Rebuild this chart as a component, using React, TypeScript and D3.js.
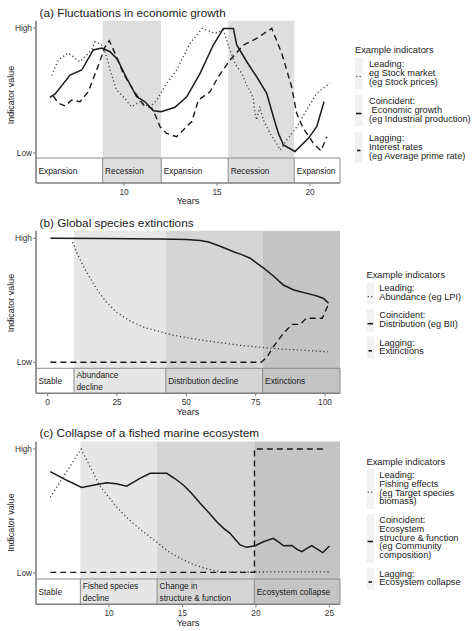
import React from "react";
import * as d3 from "d3";

type Pt = [number, number];

// ---------- Panel (a) data ----------
const aTitle = "(a) Fluctuations in economic growth";
const aLeading: Pt[] = [
  [6.11, 0.62], [6.47, 0.744], [7.0, 0.8], [7.63, 0.73], [8.26, 0.824], [8.44, 0.89], [8.8, 0.864],
  [9.07, 0.77], [9.25, 0.664], [9.6, 0.504], [9.96, 0.45], [10.4, 0.37], [10.86, 0.41], [11.4, 0.366],
  [11.76, 0.424], [12.3, 0.557], [12.83, 0.664], [13.55, 0.877], [14.2, 0.997], [14.9, 0.957],
  [15.34, 0.984], [15.6, 0.864], [15.97, 0.717], [16.33, 0.637], [16.63, 0.53], [16.8, 0.49],
  [16.95, 0.437], [17.04, 0.317], [17.13, 0.264], [17.3, 0.37], [17.49, 0.264], [17.85, 0.157],
  [18.2, 0.077], [18.4, 0.024], [18.75, 0.104], [19.3, 0.21], [19.82, 0.344], [20.36, 0.478], [21.07, 0.558],
];
const aCoincident: Pt[] = [
  [6.02, 0.446], [6.29, 0.47], [7.1, 0.624], [7.73, 0.664], [8.35, 0.824], [8.8, 0.84], [9.25, 0.81],
  [9.64, 0.75], [10.14, 0.6], [10.68, 0.45], [11.13, 0.41], [11.58, 0.338], [12.0, 0.33], [12.74, 0.366],
  [13.37, 0.45], [14.09, 0.637], [14.8, 0.864], [15.34, 0.997], [15.88, 0.997], [16.06, 0.864],
  [16.6, 0.73], [17.13, 0.61], [17.67, 0.477], [18.03, 0.29], [18.3, 0.157], [18.57, 0.064],
  [19.19, 0.012], [19.91, 0.117], [20.36, 0.21], [20.75, 0.41],
];
const aLagging: Pt[] = [
  [6.2, 0.456], [6.47, 0.398], [6.83, 0.376], [7.19, 0.424], [7.63, 0.41], [8.08, 0.49], [8.53, 0.664],
  [8.98, 0.85], [9.21, 0.898], [9.52, 0.797], [9.96, 0.637], [10.5, 0.504], [11.04, 0.384], [11.5, 0.357],
  [11.72, 0.29], [11.94, 0.21], [12.29, 0.157], [12.83, 0.13], [13.19, 0.184], [13.37, 0.216],
  [13.64, 0.25], [14.0, 0.424], [14.62, 0.49], [15.07, 0.61], [15.7, 0.744], [16.42, 0.864],
  [17.13, 0.917], [17.94, 0.997], [18.48, 0.797], [19.01, 0.53], [19.28, 0.317], [19.64, 0.197],
  [20.18, 0.077], [20.59, 0.018], [20.9, 0.13],
];
const aPhaseLabels = ["Expansion", "Recession", "Expansion", "Recession", "Expansion"];
const aPhaseBreaks = [8.85, 12.0, 15.6, 19.15];
const aXTicks = [10, 15, 20];
const aLegendGroups = [
  ["Leading:", "eg Stock market", "(eg Stock prices)"],
  ["Coincident:", " Economic growth", "(eg Industrial production)"],
  ["Lagging:", "Interest rates", "(eg Average prime rate)"],
];

// ---------- Panel (b) data ----------
const bTitle = "(b) Global species extinctions";
const bLeading: Pt[] = [
  [9, 0.97], [11, 0.86], [13, 0.77], [15, 0.69], [18, 0.58], [21, 0.49], [25, 0.4], [30, 0.33],
  [35, 0.28], [40, 0.25], [45, 0.22], [50, 0.2], [55, 0.18], [60, 0.165], [65, 0.15], [70, 0.135],
  [75, 0.125], [80, 0.115], [85, 0.105], [90, 0.1], [95, 0.093], [101, 0.085],
];
const bCoincident: Pt[] = [
  [1, 1.0], [20, 0.998], [40, 0.994], [50, 0.99], [55, 0.982], [58, 0.97], [61, 0.946], [64, 0.92],
  [67, 0.892], [70, 0.868], [73, 0.839], [76, 0.79], [78, 0.758], [81.4, 0.696], [85, 0.623],
  [88.7, 0.583], [93.5, 0.556], [97.1, 0.535], [99.5, 0.515], [101.3, 0.476],
];
const bLagging: Pt[] = [
  [1, 0], [77, 0], [79, 0.04], [81.4, 0.126], [85, 0.234], [88.1, 0.306], [91, 0.306], [93.3, 0.355],
  [99, 0.355], [101.3, 0.47],
];
const bPhaseLabels = ["Stable", "Abundance\ndecline", "Distribution decline", "Extinctions"];
const bPhaseBreaks = [9.5, 42.6, 77.5];
const bXTicks = [0, 25, 50, 75, 100];
const bLegendGroups = [
  ["Leading:", "Abundance (eg LPI)"],
  ["Coincident:", "Distribution (eg BII)"],
  ["Lagging:", "Extinctions"],
];

// ---------- Panel (c) data ----------
const cTitle = "(c) Collapse of a fished marine ecosystem";
const cLeading: Pt[] = [
  [6, 0.61], [8.1, 1.0], [8.7, 0.86], [9.4, 0.7], [10, 0.61], [10.5, 0.535], [11.1, 0.46], [11.65, 0.4],
  [12.2, 0.345], [12.8, 0.29], [13.4, 0.235], [13.9, 0.185], [14.5, 0.14], [15.1, 0.105], [15.6, 0.075],
  [16.2, 0.05], [16.8, 0.03], [17.5, 0.012], [18.5, 0.008], [20, 0.008], [25, 0.01],
];
const cCoincident: Pt[] = [
  [6, 0.817], [7, 0.755], [8.14, 0.69], [9, 0.71], [9.84, 0.728], [10.5, 0.72], [11.2, 0.7],
  [11.7, 0.735], [12.1, 0.763], [12.8, 0.804], [13.93, 0.804], [14.5, 0.76], [15.06, 0.71],
  [15.6, 0.645], [16.2, 0.562], [16.8, 0.485], [17.33, 0.414], [17.8, 0.36], [18.24, 0.32],
  [18.6, 0.27], [18.92, 0.226], [19.37, 0.207], [19.94, 0.22], [20.5, 0.252], [21.18, 0.28],
  [21.6, 0.245], [21.87, 0.22], [22.44, 0.222], [22.8, 0.19], [23.12, 0.172], [23.5, 0.2],
  [23.8, 0.22], [24.2, 0.19], [24.55, 0.164], [25.0, 0.218],
];
const cLagging: Pt[] = [[6, 0.005], [19.9, 0.005], [19.9, 1.0], [24.82, 1.0]];
const cPhaseLabels = ["Stable", "Fished species\ndecline", "Change in\nstructure & function", "Ecosystem collapse"];
const cPhaseBreaks = [8.05, 13.27, 19.89];
const cXTicks = [10, 15, 20, 25];
const cLegendGroups = [
  ["Leading:", "Fishing effects", "(eg Target species", "biomass)"],
  ["Coincident:", "Ecosystem", "structure & function", "(eg Community", "composition)"],
  ["Lagging:", "Ecosystem collapse"],
];

// ---------- shared ----------
const yTickValues = [0, 1];
const yTickLabels = ["Low", "High"];
const legendTitle = "Example indicators";
const xAxisTitle = "Years";
const yAxisTitle = "Indicator value";

const FONT = "'Liberation Sans', Arial, Helvetica, sans-serif";
const L = 36;
const R = 340;

interface Cfg {
  title: string;
  leading: Pt[];
  coincident: Pt[];
  lagging: Pt[];
  labels: string[];
  breaks: number[];
  fills: string[];
  ticks: number[];
  legend: string[][];
  xDomain: [number, number];
  top: number;
  high: number;
  low: number;
  sTop: number;
  sBot: number;
  titleY: number;
  yLabelY: number;
  lg: { boxX: number; textX: number; titleY: number; first: number; lh: number; gap: number };
}

function Panel({ c }: { c: Cfg }) {
  const x = d3.scaleLinear().domain(c.xDomain).range([L, R]);
  const y = d3.scaleLinear().domain([0, 1]).range([c.low, c.high]);
  const line = d3.line<Pt>().x((d) => x(d[0])).y((d) => y(d[1]));
  const bounds = [c.xDomain[0], ...c.breaks, c.xDomain[1]];
  const grey = "#7f7f7f";
  const sMid = (c.sTop + c.sBot) / 2;

  // legend layout
  const groups: { lines: { t: string; y: number }[]; top: number; bot: number }[] = [];
  let cy = c.lg.first;
  c.legend.forEach((g) => {
    const lines = g.map((t, i) => ({ t, y: cy + i * c.lg.lh }));
    const last = lines[lines.length - 1].y;
    groups.push({ lines, top: lines[0].y - 6, bot: last + 7.5 });
    cy = last + c.lg.gap;
  });

  return (
    <g>
      {/* shading */}
      {c.labels.map((lab, i) => (
        <rect key={"s" + i} x={x(bounds[i])} y={c.top} width={x(bounds[i + 1]) - x(bounds[i])}
          height={c.sBot - c.top} fill={c.fills[i]} />
      ))}
      {/* stripe borders */}
      <line x1={L} x2={R} y1={c.sTop} y2={c.sTop} stroke="#8c8c8c" strokeWidth={1} />
      <line x1={R} x2={R} y1={c.sTop} y2={c.sBot} stroke="#8c8c8c" strokeWidth={1} />
      {c.breaks.map((b, i) => (
        <line key={"b" + i} x1={x(b)} x2={x(b)} y1={c.sTop} y2={c.sBot} stroke="#8c8c8c" strokeWidth={1} />
      ))}
      {c.labels.map((lab, i) => {
        const parts = lab.split("\n");
        return parts.map((p, j) => (
          <text key={"t" + i + "_" + j} x={x(bounds[i]) + 2.5}
            y={sMid + (parts.length === 1 ? 0 : (j === 0 ? -6 : 6.3))}
            fontSize={8.3} fontFamily={FONT} fill="#1a1a1a" dominantBaseline="central">{p}</text>
        ));
      })}
      {/* lines */}
      <path d={line(c.lagging) || ""} fill="none" stroke="#1a1a1a" strokeWidth={1.4} strokeDasharray="6,4" />
      <path d={line(c.leading) || ""} fill="none" stroke="#3a3a3a" strokeWidth={1.3} strokeDasharray="1.2,2.6" />
      <path d={line(c.coincident) || ""} fill="none" stroke="#1a1a1a" strokeWidth={1.5} />
      {/* axes */}
      <line x1={L} x2={L} y1={c.top} y2={c.sBot} stroke={grey} strokeWidth={1.6} />
      <line x1={L} x2={R} y1={c.sBot} y2={c.sBot} stroke={grey} strokeWidth={1.6} />
      {yTickValues.map((v, i) => (
        <g key={"yt" + i}>
          <line x1={L - 3} x2={L} y1={y(v)} y2={y(v)} stroke={grey} strokeWidth={1} />
          <text x={L - 4} y={y(v)} textAnchor="end" dominantBaseline="central" fontSize={8.3}
            fontFamily={FONT} fill="#333">{yTickLabels[i]}</text>
        </g>
      ))}
      {c.ticks.map((t) => (
        <g key={"xt" + t}>
          <line x1={x(t)} x2={x(t)} y1={c.sBot} y2={c.sBot + 3} stroke={grey} strokeWidth={1} />
          <text x={x(t)} y={c.sBot + 8.7} textAnchor="middle" dominantBaseline="central" fontSize={8.3}
            fontFamily={FONT} fill="#333">{t}</text>
        </g>
      ))}
      <text x={(L + R) / 2} y={c.sBot + 18.4} textAnchor="middle" dominantBaseline="central" fontSize={9}
        fontFamily={FONT} fill="#1a1a1a">{xAxisTitle}</text>
      <text transform={`translate(11,${c.yLabelY}) rotate(-90)`} textAnchor="middle" dominantBaseline="central"
        fontSize={9} fontFamily={FONT} fill="#1a1a1a">{yAxisTitle}</text>
      <text x={39.5} y={c.titleY} dominantBaseline="central" fontSize={11.8} fontFamily={FONT}
        fill="#1a1a1a">{c.title}</text>
      {/* legend */}
      <text x={c.lg.boxX} y={c.lg.titleY} dominantBaseline="central" fontSize={9.3} fontFamily={FONT}
        fill="#1a1a1a">{legendTitle}</text>
      {groups.map((g, gi) => {
        const gy = (g.lines[0].y + g.lines[g.lines.length - 1].y) / 2 + 4;
        const bx = c.lg.boxX;
        return (
          <g key={"lg" + gi}>
            <rect x={bx} y={g.top} width={7.5} height={g.bot - g.top} fill="#f2f2f2" />
            {gi === 0 && (
              <g fill="#444">
                <rect x={bx + 1.2} y={gy - 0.6} width={1.2} height={1.2} />
                <rect x={bx + 4.6} y={gy - 0.6} width={1.2} height={1.2} />
              </g>
            )}
            {gi === 1 && <line x1={bx + 1} x2={bx + 6.5} y1={gy} y2={gy} stroke="#1a1a1a" strokeWidth={1.6} />}
            {gi === 2 && <line x1={bx + 2} x2={bx + 5.5} y1={gy} y2={gy} stroke="#1a1a1a" strokeWidth={1.6} />}
            {g.lines.map((ln, li) => (
              <text key={li} x={c.lg.textX} y={ln.y} dominantBaseline="central" fontSize={9.2}
                fontFamily={FONT} fill="#1a1a1a" style={{ whiteSpace: "pre" }}>{ln.t}</text>
            ))}
          </g>
        );
      })}
    </g>
  );
}

const panels: Cfg[] = [
  {
    title: aTitle, leading: aLeading, coincident: aCoincident, lagging: aLagging,
    labels: aPhaseLabels, breaks: aPhaseBreaks,
    fills: ["#ffffff", "#dedede", "#ffffff", "#dedede", "#ffffff"],
    ticks: aXTicks, legend: aLegendGroups, xDomain: [5.27, 21.61],
    top: 20.7, high: 28, low: 153, sTop: 158, sBot: 183, titleY: 13.3, yLabelY: 95,
    lg: { boxX: 355, textX: 369, titleY: 50, first: 63.5, lh: 9, gap: 19 },
  },
  {
    title: bTitle, leading: bLeading, coincident: bCoincident, lagging: bLagging,
    labels: bPhaseLabels, breaks: bPhaseBreaks,
    fills: ["#ffffff", "#e6e6e6", "#d5d5d5", "#c4c4c4"],
    ticks: bXTicks, legend: bLegendGroups, xDomain: [-4.2, 105.4],
    top: 230.8, high: 238.3, low: 362.3, sTop: 368.3, sBot: 393.3, titleY: 223.3, yLabelY: 303,
    lg: { boxX: 366.5, textX: 379.3, titleY: 275, first: 288.3, lh: 8.6, gap: 18.5 },
  },
  {
    title: cTitle, leading: cLeading, coincident: cCoincident, lagging: cLagging,
    labels: cPhaseLabels, breaks: cPhaseBreaks,
    fills: ["#ffffff", "#e6e6e6", "#d5d5d5", "#c4c4c4"],
    ticks: cXTicks, legend: cLegendGroups, xDomain: [5.03, 25.72],
    top: 441.5, high: 449, low: 573, sTop: 579, sBot: 604.3, titleY: 433.3, yLabelY: 522.5,
    lg: { boxX: 366.5, textX: 379.3, titleY: 462, first: 475, lh: 8.8, gap: 18.5 },
  },
];

export default function App() {
  return (
    <div style={{ position: "absolute", left: 0, top: 0 }}>
      <svg width={474} height={631} viewBox="0 0 474 631" style={{ display: "block", background: "#fff" }}>
        <rect x={0} y={0} width={474} height={631} fill="#fff" />
        {panels.map((p, i) => (
          <Panel key={i} c={p} />
        ))}
      </svg>
    </div>
  );
}
